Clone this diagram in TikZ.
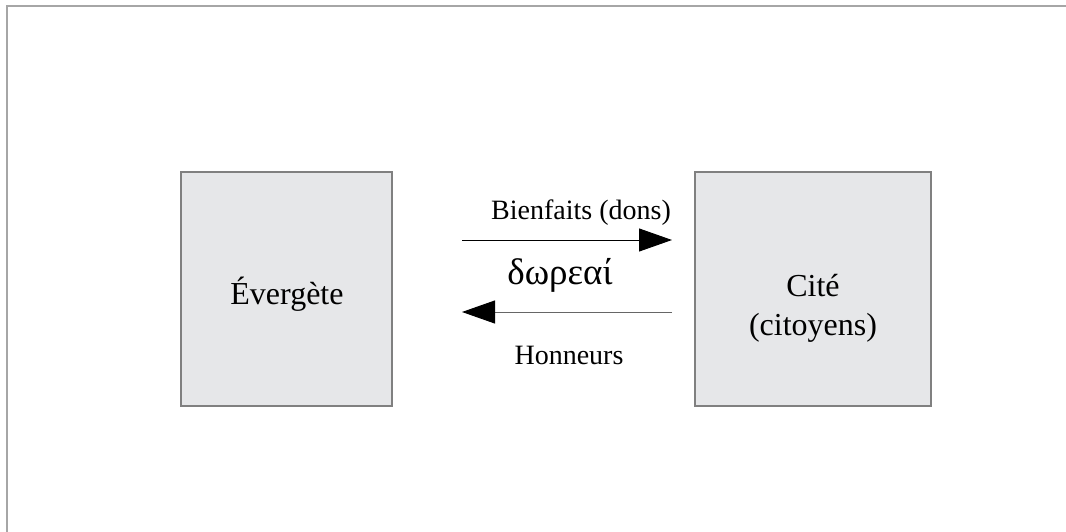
\documentclass[tikz,border=0pt]{standalone}
\usepackage{fontspec}
\setmainfont{Liberation Serif}
\usetikzlibrary{arrows}
\usetikzlibrary{arrows.meta}
\definecolor{boxGray}{RGB}{230,231,233}
\definecolor{edgeGray}{RGB}{128,128,128}

\begin{document}
\begin{tikzpicture}[x = 1pt, y = -1pt]
	\tikzstyle{frameStyle} = [line width = 2pt, draw = black!35]
	\tikzstyle{partyStyle} = [shape = rectangle, draw = edgeGray, line width = 1.3pt, fill = boxGray, minimum height = 234pt, inner sep = 0pt]
	\tikzstyle{nameStyle} = [inner sep = 0pt, anchor = base, font = \fontsize{32}{39}\selectfont]
	\tikzstyle{labelStyle} = [inner sep = 0pt, font = \fontsize{28}{30}\selectfont]
	\tikzstyle{greekStyle} = [inner sep = 0pt, font = \fontsize{37}{40}\selectfont]
	\tikzstyle{flowStyle} = [line width = 1pt, -{Triangle[length = 33pt, width = 23pt, color = black]}]
	\useasboundingbox (0,0) rectangle (1066,532);
	\draw[frameStyle] (7,532) -- (7,6) -- (1066,6);
	\node[partyStyle, minimum width = 211pt] (everg) at (286.5,289) {};
	\node[partyStyle, minimum width = 236pt] (cite) at (813,289) {};
	\node[nameStyle] (evergName) at (287,304) {Évergète};
	\node[nameStyle] (citeName) at (813,296) {\begin{tabular}[t]{@{}c@{}}Cité\\(citoyens)\end{tabular}};
	\coordinate (giftStart) at (462,240);
	\coordinate (giftEnd) at (672,240);
	\coordinate (honourStart) at (672,312);
	\coordinate (honourEnd) at (462,312);
	\draw[flowStyle, draw = black] (giftStart) -- (giftEnd);
	\draw[flowStyle, draw = black!60] (honourStart) -- (honourEnd);
	\node[labelStyle] (giftLabel) at (581,213) {Bienfaits (dons)};
	\node[greekStyle] (greekLabel) at (560,275) {δωρεαί};
	\node[labelStyle] (honourLabel) at (569,355) {Honneurs};
\end{tikzpicture}
\end{document}
